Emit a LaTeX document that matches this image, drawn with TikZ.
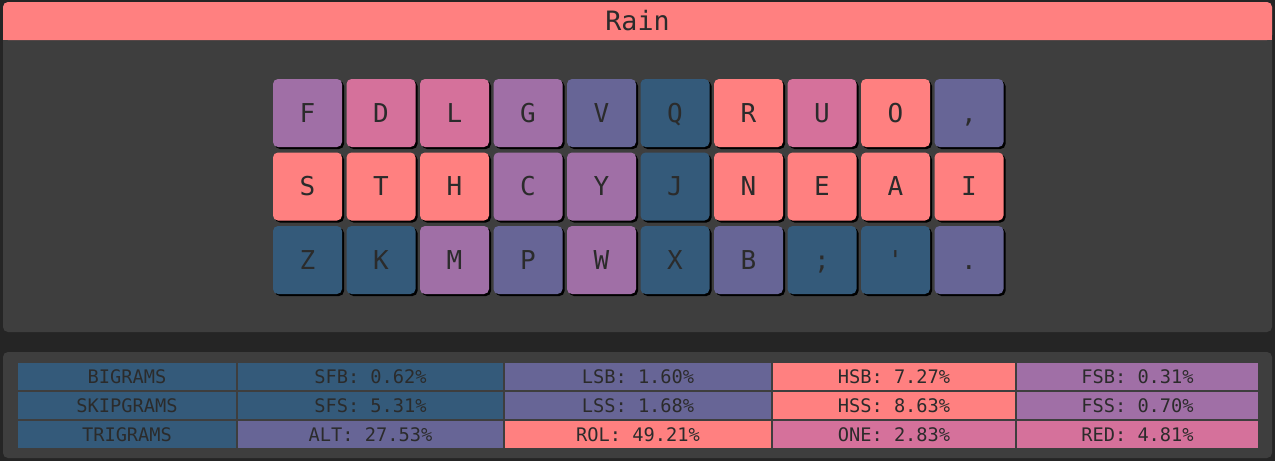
\documentclass[tikz,border=0pt]{standalone}
\usepackage{fontspec}
\setmonofont{DejaVu Sans Mono}
\usetikzlibrary{shadows}

\definecolor{bgDark}{RGB}{37,37,37}
\definecolor{panelGrey}{RGB}{62,62,62}
\definecolor{keyText}{RGB}{43,43,43}
\definecolor{cSalmon}{RGB}{255,128,128}
\definecolor{cPink}{RGB}{213,113,155}
\definecolor{cPurple}{RGB}{160,111,166}
\definecolor{cSlate}{RGB}{103,101,150}
\definecolor{cBlue}{RGB}{52,90,122}

\tikzset{every picture/.style={line width=0.75pt}}
\tikzset{
  key/.style={rectangle, rounded corners=3.75pt, minimum width=51.75pt, minimum height=51pt,
    inner sep=0pt, text=keyText, font=\ttfamily\fontsize{19.5}{20}\selectfont,
    text height=14.2pt, text depth=0pt,
    drop shadow={shadow xshift=1.5pt, shadow yshift=-1.5pt, opacity=1, fill=black}},
  cell/.style={rectangle, minimum height=20.25pt, inner sep=0pt, text=keyText,
    font=\ttfamily\fontsize{14}{15}\selectfont, text height=10.2pt, text depth=0pt},
  colA/.style={cell, minimum width=163.5pt},
  colB/.style={cell, minimum width=198.75pt},
  colC/.style={cell, minimum width=199.5pt},
  colD/.style={cell, minimum width=181.5pt},
  colE/.style={cell, minimum width=180.75pt},
}

\begin{document}
\begin{tikzpicture}[x=0.75pt,y=0.75pt,yscale=-1,xscale=1]
%set diagram left start at 0, and has height of 461
\path [fill=bgDark] (0,0) rectangle (1275,461);

%Layout panel
\fill [panelGrey, rounded corners=3.75pt] (3,2) rectangle (1272,332);
\fill [cSalmon, rounded corners=3.75pt] (3,2) rectangle (1272,40);
\fill [cSalmon] (3,30) rectangle (1272,40);
% Text Node
\draw (637.5,21) node (title) [inner sep=0pt, text=keyText, font=\ttfamily\fontsize{20}{21}\selectfont, text height=14.6pt, text depth=0pt] {Rain};

%Stats panel
\fill [panelGrey, rounded corners=3.75pt] (3,352) rectangle (1272,458);

%Top row
\draw (307.5,113) node (kF) [key, fill=cPurple] {F};
\draw (381,113) node (kD) [key, fill=cPink] {D};
\draw (454.5,113) node (kL) [key, fill=cPink] {L};
\draw (528,113) node (kG) [key, fill=cPurple] {G};
\draw (601.5,113) node (kV) [key, fill=cSlate] {V};
\draw (675,113) node (kQ) [key, fill=cBlue] {Q};
\draw (748.5,113) node (kR) [key, fill=cSalmon] {R};
\draw (822,113) node (kU) [key, fill=cPink] {U};
\draw (895.5,113) node (kO) [key, fill=cSalmon] {O};
\draw (969,113) node (kComma) [key, fill=cSlate] {,};

%Home row
\draw (307.5,186.5) node (kS) [key, fill=cSalmon] {S};
\draw (381,186.5) node (kT) [key, fill=cSalmon] {T};
\draw (454.5,186.5) node (kH) [key, fill=cSalmon] {H};
\draw (528,186.5) node (kC) [key, fill=cPurple] {C};
\draw (601.5,186.5) node (kY) [key, fill=cPurple] {Y};
\draw (675,186.5) node (kJ) [key, fill=cBlue] {J};
\draw (748.5,186.5) node (kN) [key, fill=cSalmon] {N};
\draw (822,186.5) node (kE) [key, fill=cSalmon] {E};
\draw (895.5,186.5) node (kA) [key, fill=cSalmon] {A};
\draw (969,186.5) node (kI) [key, fill=cSalmon] {I};

%Bottom row
\draw (307.5,260) node (kZ) [key, fill=cBlue] {Z};
\draw (381,260) node (kK) [key, fill=cBlue] {K};
\draw (454.5,260) node (kM) [key, fill=cPurple] {M};
\draw (528,260) node (kP) [key, fill=cSlate] {P};
\draw (601.5,260) node (kW) [key, fill=cPurple] {W};
\draw (675,260) node (kX) [key, fill=cBlue] {X};
\draw (748.5,260) node (kB) [key, fill=cSlate] {B};
\draw (822,260) node (kSemi) [key, fill=cBlue] {;};
\draw (895.5,260) node (kQuote) [key, fill=cBlue] {'};
\draw (969,260) node (kDot) [key, fill=cSlate] {.};

%Bigrams
\draw (127,376.5) node (bigrams) [colA, fill=cBlue] {BIGRAMS};
\draw (370.5,376.5) node (sfb) [colB, fill=cBlue] {SFB: 0.62\%};
\draw (638,376.5) node (lsb) [colC, fill=cSlate] {LSB: 1.60\%};
\draw (894,376.5) node (hsb) [colD, fill=cSalmon] {HSB: 7.27\%};
\draw (1137.5,376.5) node (fsb) [colE, fill=cPurple] {FSB: 0.31\%};

%Skipgrams
\draw (127,405.5) node (skipgrams) [colA, fill=cBlue] {SKIPGRAMS};
\draw (370.5,405.5) node (sfs) [colB, fill=cBlue] {SFS: 5.31\%};
\draw (638,405.5) node (lss) [colC, fill=cSlate] {LSS: 1.68\%};
\draw (894,405.5) node (hss) [colD, fill=cSalmon] {HSS: 8.63\%};
\draw (1137.5,405.5) node (fss) [colE, fill=cPurple] {FSS: 0.70\%};

%Trigrams
\draw (127,434.5) node (trigrams) [colA, fill=cBlue] {TRIGRAMS};
\draw (370.5,434.5) node (alt) [colB, fill=cSlate] {ALT: 27.53\%};
\draw (638,434.5) node (rol) [colC, fill=cSalmon] {ROL: 49.21\%};
\draw (894,434.5) node (one) [colD, fill=cPink] {ONE: 2.83\%};
\draw (1137.5,434.5) node (red) [colE, fill=cPink] {RED: 4.81\%};

\end{tikzpicture}
\end{document}
